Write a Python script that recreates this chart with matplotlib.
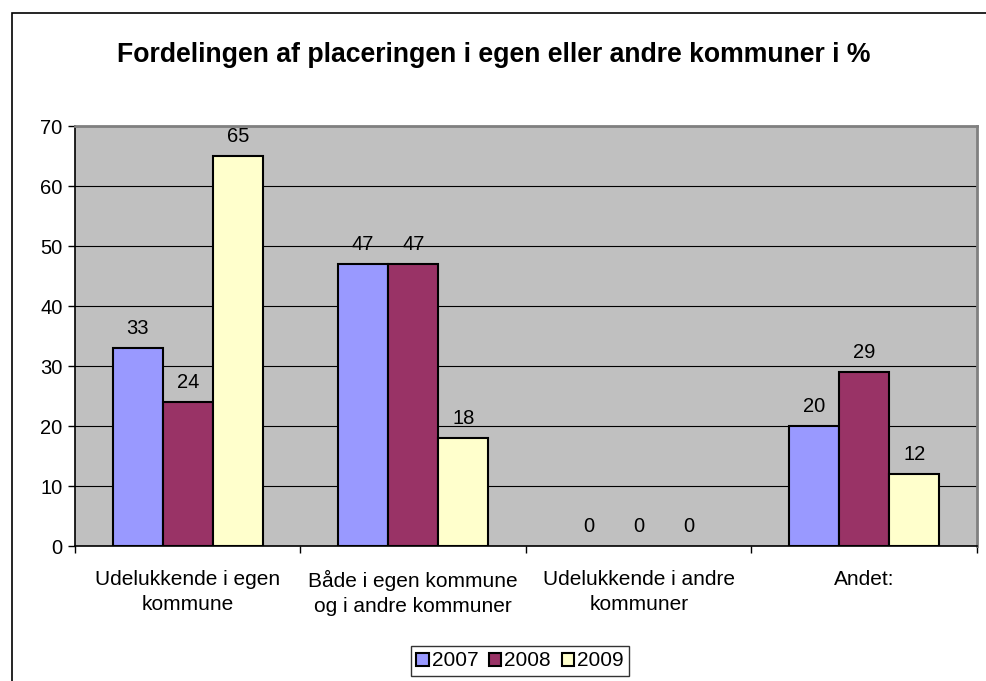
import matplotlib
matplotlib.use("Agg")
import matplotlib.pyplot as plt
from matplotlib.patches import Patch, Rectangle
import numpy as np

plt.rcParams['font.family'] = ['Liberation Sans', 'DejaVu Sans']

categories = ["Udelukkende i egen\nkommune", "Både i egen kommune\nog i andre kommuner",
              "Udelukkende i andre\nkommuner", "Andet:"]
series_names = ["2007", "2008", "2009"]
v2007 = [33, 47, 0, 20]
v2008 = [24, 47, 0, 29]
v2009 = [65, 18, 0, 12]
colors = ["#9999FF", "#993366", "#FFFFCC"]
title = "Fordelingen af placeringen i egen eller andre kommuner i %"

fig = plt.figure(figsize=(9.87, 6.81), dpi=100)
fig.patches.append(Rectangle((12/987, -0.05), 1.2, (681-13)/681 + 0.05, transform=fig.transFigure,
                             fill=False, edgecolor='black', linewidth=1.2))

ax = fig.add_axes([75/987, (681-546)/681, (977-75)/987, (546-126)/681])
ax.set_facecolor("#C0C0C0")

x = np.arange(len(categories))
w = 1/4.5
data = [v2007, v2008, v2009]
for i, (vals, c) in enumerate(zip(data, colors)):
    pos = x + (i - 1) * w
    lws = [1.5 if v > 0 else 0 for v in vals]
    ax.bar(pos, vals, width=w, color=c, edgecolor='black', linewidth=lws, zorder=3)
    for p, v in zip(pos, vals):
        ax.annotate(str(v), (p, v), xytext=(0, 7), textcoords='offset points',
                    ha='center', va='bottom', fontsize=14.5)

ax.set_xlim(-0.5, len(categories) - 0.5)
ax.set_ylim(0, 70)
ax.set_yticks(range(0, 71, 10))
ax.yaxis.grid(True, color='black', linewidth=0.8, zorder=0)
ax.set_axisbelow(True)
ax.tick_params(axis='y', labelsize=14.5, direction='out', length=5, width=1, pad=4)
ax.set_xticks(x)
ax.set_xticklabels(categories, fontsize=15, linespacing=1.4)
ax.tick_params(axis='x', length=0, pad=17)
ax.set_xticks(np.arange(-0.5, len(categories), 1), minor=True)
ax.tick_params(axis='x', which='minor', length=5, width=1, direction='out')

for s in ['top', 'right']:
    ax.spines[s].set_color('#808080')
    ax.spines[s].set_linewidth(2)
for s in ['left', 'bottom']:
    ax.spines[s].set_color('black')
    ax.spines[s].set_linewidth(1.2)

fig.text(0.5, (681-55)/681, title, ha='center', va='center', fontsize=19.2, fontweight='bold')

handles = [Patch(facecolor=c, edgecolor='black', linewidth=1.5) for c in colors]
leg = fig.legend(handles, series_names, loc='center', bbox_to_anchor=(520/987, (681-661)/681),
                 ncol=3, fontsize=15, frameon=True, fancybox=False, edgecolor='black',
                 handlelength=0.6, handleheight=0.6, handletextpad=0.15, columnspacing=0.5,
                 borderpad=0.25, borderaxespad=0)
leg.get_frame().set_linewidth(1)

fig.savefig("out.png", dpi=100)
